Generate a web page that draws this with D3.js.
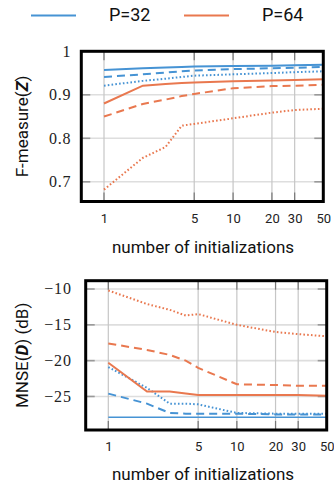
<!DOCTYPE html>
<html>
<head>
<meta charset="utf-8">
<script src="https://cdn.jsdelivr.net/npm/d3@7"></script>
<style>
  body { margin: 0; background: #fff; }
  svg { display: block; }
  .xt { font-family: Roboto, sans-serif; font-size: 13px; fill: #222; }
  .yt { font-family: "Liberation Serif", serif; font-size: 16px; letter-spacing: 0.8px; fill: #222; }
  .ttl { font-family: Roboto, sans-serif; font-size: 17px; fill: #111; }
</style>
</head>
<body>
<svg id="chart" width="334" height="485"></svg>
<script>
// number of initializations
const inits = [1, 2, 3, 4, 5, 10, 20, 30, 50];
const xTicks = [1, 5, 10, 20, 30, 50];

// F-measure(Z)
const fm32Solid  = [0.957, 0.961, 0.963, 0.964, 0.965, 0.966, 0.967, 0.968, 0.969];
const fm32Dashed = [0.941, 0.947, 0.951, 0.954, 0.956, 0.959, 0.961, 0.962, 0.964];
const fm32Dotted = [0.921, 0.932, 0.937, 0.941, 0.944, 0.947, 0.950, 0.952, 0.954];
const fm64Solid  = [0.880, 0.921, 0.925, 0.927, 0.928, 0.931, 0.933, 0.934, 0.936];
const fm64Dashed = [0.850, 0.879, 0.889, 0.897, 0.902, 0.915, 0.920, 0.921, 0.923];
const fm64Dotted = [0.682, 0.755, 0.780, 0.829, 0.833, 0.846, 0.859, 0.865, 0.868];
const fmTicks = [0.7, 0.8, 0.9, 1];

// MNSE(D) in dB
const mn32Solid  = [-27.9, -27.9, -27.9, -27.9, -27.9, -27.9, -27.9, -27.9, -27.9];
const mn32Dashed = [-24.6, -26.0, -27.3, -27.4, -27.4, -27.4, -27.5, -27.5, -27.5];
const mn32Dotted = [-20.9, -23.8, -26.0, -26.0, -26.1, -27.3, -27.4, -27.4, -27.4];
const mn64Solid  = [-20.3, -24.3, -24.3, -24.6, -24.8, -24.8, -24.8, -24.8, -24.9];
const mn64Dashed = [-17.6, -18.5, -19.2, -20.0, -21.0, -23.3, -23.4, -23.5, -23.5];
const mn64Dotted = [-10.2, -12.1, -12.9, -13.7, -13.5, -15.0, -16.0, -16.3, -16.6];
const mnTicks = [-25, -20, -15, -10];

const blue = '#4693d4';
const orange = '#e9784f';
const dashes = { solid: null, dashed: '8,5', dotted: '1.6,2.2' };

const svg = d3.select('#chart');

// legend
const legend = [{ name: 'P=32', color: blue, x: 31 }, { name: 'P=64', color: orange, x: 184 }];
legend.forEach(l => {
  svg.append('line').attr('x1', l.x).attr('x2', l.x + 45).attr('y1', 15.5).attr('y2', 15.5)
    .attr('stroke', l.color).attr('stroke-width', 2);
  svg.append('text').attr('class', 'ttl').attr('x', l.x + 78).attr('y', 21)
    .style('font-size', '18px').text(l.name);
});

function panel(opt) {
  const x = d3.scaleLog().domain([0.667, 50]).range([opt.left, opt.right]);
  const y = d3.scaleLinear().domain(opt.yDomain).range([opt.bottom, opt.top]);
  const g = svg.append('g');

  // horizontal grid
  g.selectAll('.hg').data(opt.yTicks).enter().append('line')
    .attr('x1', opt.left).attr('x2', opt.right)
    .attr('y1', d => y(d)).attr('y2', d => y(d))
    .attr('stroke', '#dedede').attr('stroke-width', 1.6);
  // vertical grid
  g.selectAll('.vg').data(xTicks.slice(0, -1)).enter().append('line')
    .attr('x1', d => x(d)).attr('x2', d => x(d))
    .attr('y1', opt.top).attr('y2', opt.bottom)
    .attr('stroke', '#c6c6c6').attr('stroke-width', 1.2);
  // tick stubs
  xTicks.slice(0, -1).forEach(t => {
    [[opt.bottom, opt.bottom - 9], [opt.top, opt.top + 9]].forEach(([a, b]) =>
      g.append('line').attr('x1', x(t)).attr('x2', x(t)).attr('y1', a).attr('y2', b)
        .attr('stroke', '#777').attr('stroke-width', 1.2));
  });
  opt.yTicks.forEach(t => {
    [[opt.left, opt.left + 9], [opt.right, opt.right - 9]].forEach(([a, b]) =>
      g.append('line').attr('x1', a).attr('x2', b).attr('y1', y(t)).attr('y2', y(t))
        .attr('stroke', '#999').attr('stroke-width', 1.6));
  });

  const line = d3.line().x(d => x(d[0])).y(d => y(d[1]));
  opt.series.forEach(s => {
    g.append('path').datum(inits.map((v, i) => [v, s.values[i]]))
      .attr('d', line).attr('fill', 'none')
      .attr('stroke', s.color).attr('stroke-width', s.width || 2)
      .attr('stroke-dasharray', dashes[s.style]);
  });

  // frame
  g.append('rect').attr('x', opt.left).attr('y', opt.top)
    .attr('width', opt.right - opt.left).attr('height', opt.bottom - opt.top)
    .attr('fill', 'none').attr('stroke', '#000').attr('stroke-width', 3);

  // x axis labels
  const xa = d3.axisBottom(x).tickValues(xTicks).tickFormat(d3.format('d')).tickSize(0).tickPadding(0);
  const xg = g.append('g').attr('transform', `translate(0,${opt.bottom + 21})`).call(xa);
  xg.select('.domain').remove();
  xg.selectAll('text').attr('class', 'xt').attr('dy', 0).attr('fill', null);

  // y axis labels
  const ya = d3.axisLeft(y).tickValues(opt.yTicks).tickFormat(opt.yFormat).tickSize(0).tickPadding(opt.yPad);
  const yg = g.append('g').attr('transform', `translate(${opt.left},0)`).call(ya);
  yg.select('.domain').remove();
  yg.selectAll('text').attr('class', 'yt').attr('fill', null).attr('dy', '0.3em');

  // titles
  g.append('text').attr('class', 'ttl').attr('text-anchor', 'middle')
    .attr('x', 203).attr('y', opt.bottom + opt.xTitleGap).text('number of initializations');
  const yt = g.append('text').attr('class', 'ttl').attr('text-anchor', 'middle')
    .attr('transform', `translate(28,${(opt.top + opt.bottom) / 2}) rotate(-90)`);
  yt.append('tspan').text(opt.yTitle[0]);
  yt.append('tspan').attr('font-weight', 'bold').attr('font-style', 'italic').text(opt.yTitle[1]);
  yt.append('tspan').text(opt.yTitle[2]);
}

panel({
  left: 81.3, right: 323.3, top: 51.3, bottom: 201.5,
  yDomain: [0.6547, 1], yTicks: fmTicks, yPad: 10, xTitleGap: 51.5,
  yFormat: d => d === 1 ? '1' : d3.format('.1f')(d),
  yTitle: ['F-measure(', 'Z', ')'],
  series: [
    { values: fm32Solid, color: blue, style: 'solid' },
    { values: fm32Dashed, color: blue, style: 'dashed' },
    { values: fm32Dotted, color: blue, style: 'dotted' },
    { values: fm64Solid, color: orange, style: 'solid' },
    { values: fm64Dashed, color: orange, style: 'dashed' },
    { values: fm64Dotted, color: orange, style: 'dotted' }
  ]
});

panel({
  left: 85.7, right: 326.7, top: 280.7, bottom: 430,
  yDomain: [-29.68, -8.84], yTicks: mnTicks, yPad: 14, xTitleGap: 49.5,
  yFormat: d => '\u2212' + Math.abs(d),
  yTitle: ['MNSE(', 'D', ') (dB)'],
  series: [
    { values: mn32Solid, color: blue, style: 'solid', width: 1.6 },
    { values: mn32Dashed, color: blue, style: 'dashed' },
    { values: mn32Dotted, color: blue, style: 'dotted' },
    { values: mn64Solid, color: orange, style: 'solid' },
    { values: mn64Dashed, color: orange, style: 'dashed' },
    { values: mn64Dotted, color: orange, style: 'dotted' }
  ]
});
</script>
</body>
</html>
